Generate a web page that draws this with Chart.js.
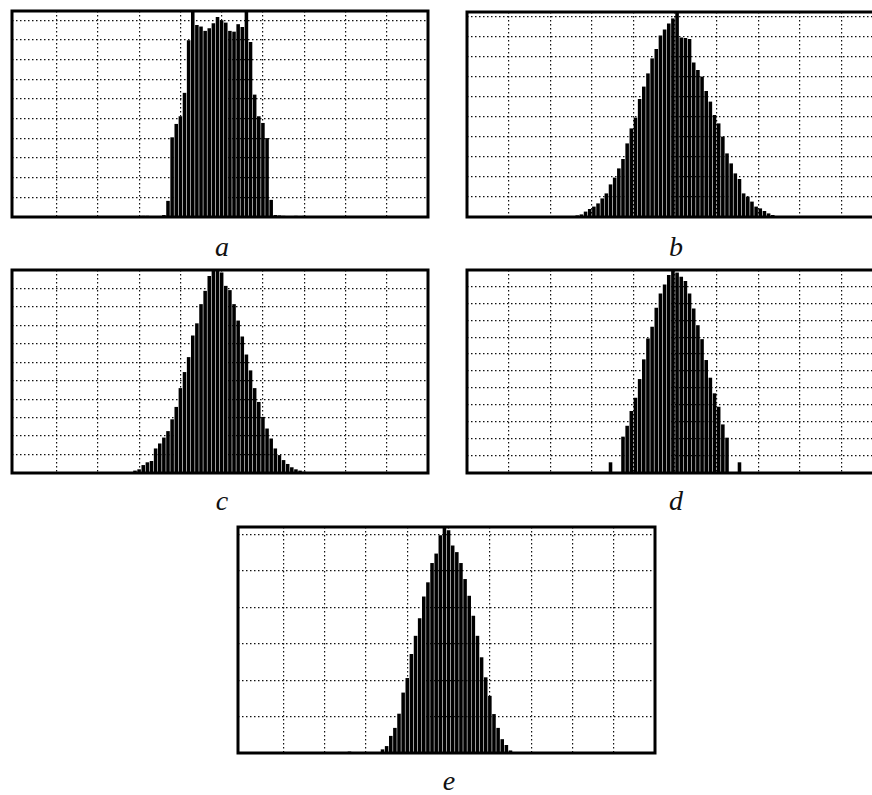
<!DOCTYPE html>
<html>
<head>
  <title>Histograms a-e</title>
  <script src="https://cdn.jsdelivr.net/npm/chart.js"></script>
  <style>
    html, body { margin: 0; padding: 0; background: #fff; }
    body { width: 872px; height: 795px; overflow: hidden; position: relative; }
    canvas { position: absolute; }
    .label {
      position: absolute;
      font-family: 'Liberation Serif', serif;
      font-style: italic;
      font-size: 28px;
      line-height: 28px;
      transform: translateX(-50%);
      color: #111;
    }
  </style>
</head>
<body>
  <canvas id="chartA"></canvas>
  <canvas id="chartB"></canvas>
  <canvas id="chartC"></canvas>
  <canvas id="chartD"></canvas>
  <canvas id="chartE"></canvas>
  <div class="label" style="left:222px; top:233px">a</div>
  <div class="label" style="left:676px; top:233px">b</div>
  <div class="label" style="left:222px; top:487px">c</div>
  <div class="label" style="left:676px; top:487px">d</div>
  <div class="label" style="left:449px; top:767px">e</div>
  <script>
    // each histogram: x of the first bin, then bin heights every 0.1
    const aStart = 2.8;
    const aHeights = [0.05, 0, 0, 0.06, 0.06, 0, 0.05, 0.05, 0.1,
      0.82, 4.05, 4.73, 5.12, 6.31, 8.98, 10.6,
      9.76, 9.68, 9.46, 9.59, 9.85, 10.17, 10.0, 9.88, 9.46, 9.42, 9.8, 9.66,
      10.6, 8.9, 6.22, 5.12, 4.78, 4.01, 0.87,
      0.1, 0.08, 0.06, 0, 0, 0.06, 0, 0.06, 0.05];

    const bStart = 2.65;
    const bHeights = [0.08, 0.13, 0.27, 0.4, 0.52, 0.68, 0.93, 1.18, 1.63, 1.97,
      2.43, 2.9, 3.68, 4.43, 4.97, 5.9, 6.52, 7.18, 7.93, 8.4,
      9.07, 9.38, 9.68, 9.93, 10.4,
      8.97, 8.95, 8.9, 7.73, 7.35, 7.02, 6.3, 5.77, 5.1, 4.68,
      4.02, 3.18, 2.68, 2.18, 1.9, 1.18, 1.02, 0.77, 0.52, 0.43, 0.3, 0.18, 0.1];

    const cStart = 2.9;
    const cHeights = [0.13, 0.2, 0.43, 0.58, 0.65, 1.33, 1.6, 1.92, 2.27, 2.91,
      3.58, 4.6, 5.47, 6.28, 7.45, 8.11, 9.15, 9.87, 10.68, 10.95,
      10.95, 10.86, 10.14, 9.91, 9.15, 8.26, 7.39, 6.42, 5.56, 4.6,
      3.85, 3.04, 2.41, 1.87, 1.33, 0.97, 0.7, 0.49, 0.31, 0.2, 0.13, 0.07];

    const dStart = 2.15;
    const dHeights = [0.05, 0.05, 0.04, 0, 0, 0, 0, 0, 0, 0, 0, 0, 0,
      0.63, 0, 0,
      2.14, 2.78, 3.65, 4.43, 5.53, 6.69, 7.92, 8.61, 9.73, 10.57, 11.1, 11.65, 11.94,
      11.8, 11.55, 11.3, 10.57, 9.69, 8.7, 7.88, 6.65, 5.61, 4.69, 3.9, 2.86, 2.08,
      0, 0, 0.63,
      0, 0, 0, 0, 0, 0, 0, 0, 0, 0, 0, 0.05, 0.05];

    const eStart = 2.6;
    const eHeights = [0.04, 0, 0, 0, 0, 0, 0, 0,
      0.1, 0.19, 0.47, 0.69, 1.08, 1.66, 2.06, 2.72, 3.22, 3.7,
      4.3, 4.69, 5.22, 5.48, 5.98, 6.25,
      6.12, 5.7, 5.52, 5.22, 4.78, 4.32, 3.77, 3.22, 2.63, 2.08,
      1.57, 1.07, 0.69, 0.38, 0.22, 0.07];

    const gridX = [1, 2, 3, 4, 5, 6, 7, 8, 9];

    const pad = 3;

    const framePlugin = {
      id: 'frame',
      afterDatasetsDraw(chart) {
        const { ctx, chartArea } = chart;
        ctx.save();
        ctx.strokeStyle = '#000';
        ctx.lineWidth = 3;
        ctx.strokeRect(chartArea.left, chartArea.top,
          chartArea.right - chartArea.left, chartArea.bottom - chartArea.top);
        ctx.restore();
      }
    };

    function createHistogram(canvasId, frame, xMin, yMax, start, heights) {
      const canvas = document.getElementById(canvasId);
      canvas.width = frame.w + 2 * pad;
      canvas.height = frame.h + 2 * pad;
      canvas.style.left = (frame.x - pad) + 'px';
      canvas.style.top = (frame.y - pad) + 'px';

      const points = heights.map((h, i) => ({ x: +(start + i * 0.1).toFixed(2), y: h }));
      const gridY = [];
      for (let v = 1; v < yMax - 0.05; v++) gridY.push(v);

      new Chart(canvas, {
        type: 'bar',
        data: {
          datasets: [{
            data: points,
            backgroundColor: '#000',
            borderWidth: 0,
            barPercentage: 0.86,
            categoryPercentage: 1
          }]
        },
        options: {
          responsive: false,
          animation: false,
          layout: { padding: pad },
          plugins: { legend: { display: false }, tooltip: { enabled: false } },
          scales: {
            x: {
              type: 'linear',
              min: xMin,
              max: 10,
              offset: false,
              afterBuildTicks: s => { s.ticks = gridX.map(v => ({ value: v })); },
              ticks: { display: false },
              grid: { offset: false, drawTicks: false, color: '#111', lineWidth: 1.2 },
              border: { display: false, dash: [1.5, 2.5] }
            },
            y: {
              min: 0,
              max: yMax,
              afterBuildTicks: s => { s.ticks = gridY.map(v => ({ value: v })); },
              ticks: { display: false },
              grid: { drawTicks: false, color: '#111', lineWidth: 1.2 },
              border: { display: false, dash: [1.5, 2.5] }
            }
          }
        },
        plugins: [framePlugin]
      });
    }

    createHistogram('chartA', { x: 12, y: 11, w: 416, h: 206 }, -0.08, 10.47, aStart, aHeights);
    createHistogram('chartB', { x: 467, y: 12, w: 416, h: 205 }, 0, 10.25, bStart, bHeights);
    createHistogram('chartC', { x: 12, y: 270, w: 416, h: 203 }, -0.08, 11.0, cStart, cHeights);
    createHistogram('chartD', { x: 467, y: 270, w: 416, h: 203 }, 0, 11.95, dStart, dHeights);
    createHistogram('chartE', { x: 238, y: 527, w: 417, h: 226 }, -0.1, 6.21, eStart, eHeights);
  </script>
</body>
</html>
